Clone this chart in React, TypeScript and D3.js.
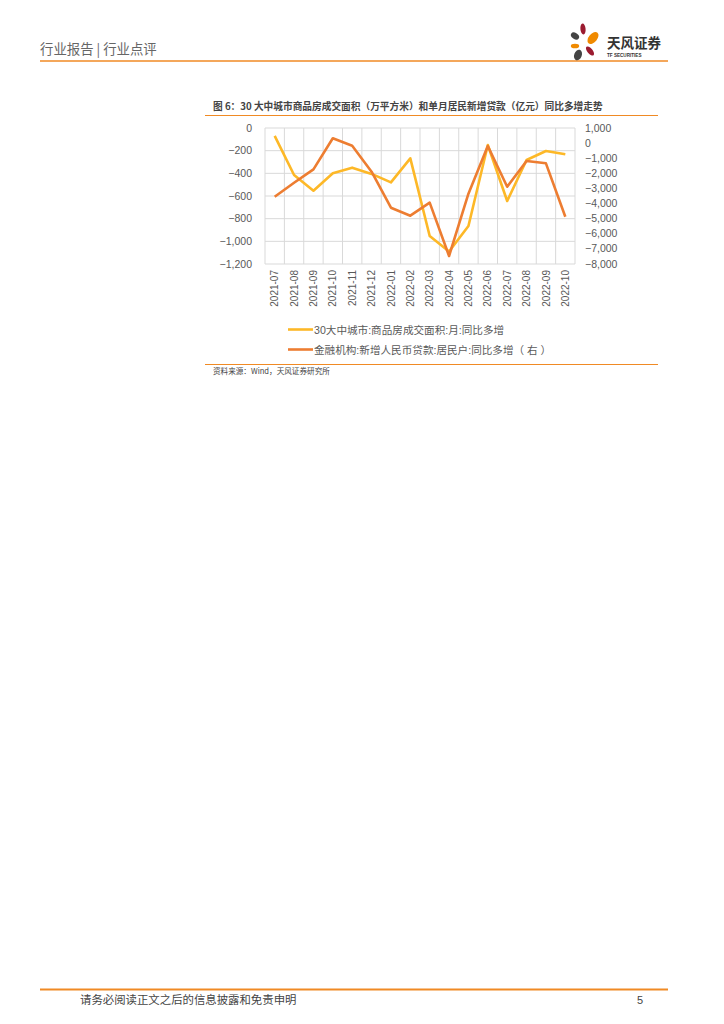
import React from "react";
import * as d3 from "d3";

const categories = ["2021-07","2021-08","2021-09","2021-10","2021-11","2021-12","2022-01","2022-02","2022-03","2022-04","2022-05","2022-06","2022-07","2022-08","2022-09","2022-10"];
const areaYoY = [-70,-415,-553,-400,-350,-405,-480,-268,-953,-1090,-865,-150,-644,-282,-203,-232];
const loanYoY = [-3546,-2620,-1735,318,-171,-1890,-4273,-4802,-3941,-7471,-3350,-191,-2885,-1184,-1338,-4870];
const leftTicks = [0,-200,-400,-600,-800,-1000,-1200];
const rightTicks = [1000,0,-1000,-2000,-3000,-4000,-5000,-6000,-7000,-8000];
const seriesNames = ["30大中城市:商品房成交面积:月:同比多增","金融机构:新增人民币贷款:居民户:同比多增（ 右 ）"];
const title = "图 6：30 大中城市商品房成交面积（万平方米）和单月居民新增贷款（亿元）同比多增走势";
const source = "资料来源：Wind，天风证券研究所";

const FONT = "'Noto Sans CJK SC', 'Noto Sans', sans-serif";
const NUMFONT = "'Liberation Sans', 'Noto Sans CJK SC', sans-serif";
const YELLOW = "#FDB827";
const ORANGE = "#ED7D31";
const ACCENT = "#F08A24";

export default function App() {
  const L = 265, R = 575, T = 128, B = 264;
  const x = d3.scaleBand<string>().domain(categories).range([L, R]);
  const yL = d3.scaleLinear().domain([-1200, 0]).range([B, T]);
  const yR = d3.scaleLinear().domain([-8000, 1000]).range([B, T]);
  const fmt = d3.format(",");
  const cx = (c: string) => (x(c) as number) + x.bandwidth() / 2;
  const lineL = d3.line<number>().x((_, i) => cx(categories[i])).y((v) => yL(v));
  const lineR = d3.line<number>().x((_, i) => cx(categories[i])).y((v) => yR(v));
  const bounds = categories.map((c) => x(c) as number).concat([R]);

  return (
    <svg width={724} height={1024} style={{ position: "absolute", left: 0, top: 0, background: "#fff" }} fontFamily={FONT}>
      {/* header */}
      <text x={40} y={54} fontSize={13.4} fill="#666">行业报告 | 行业点评</text>
      <line x1={40} x2={668} y1={61} y2={61} stroke={ACCENT} strokeWidth={1.6} />
      {/* logo */}
      <g>
        <ellipse cx={583} cy={29} rx={2.6} ry={5.5} fill="#9B1B30" transform="rotate(-5 583 29)" />
        <ellipse cx={575} cy={36} rx={4.5} ry={3} fill="#444" transform="rotate(35 575 36)" />
        <ellipse cx={593} cy={38} rx={4.2} ry={7} fill="#F08A00" transform="rotate(40 593 38)" />
        <ellipse cx={575} cy={46} rx={4.2} ry={2.3} fill="#F08A00" />
        <ellipse cx={578} cy={55} rx={3.8} ry={5.5} fill="#444" transform="rotate(20 578 55)" />
        <ellipse cx={590} cy={51} rx={2.6} ry={5.5} fill="#9B1B30" transform="rotate(-40 590 51)" />
        <text x={607} y={48} fontSize={13.5} fontWeight="bold" fill="#333">天风证券</text>
        <text x={607} y={57} fontSize={4.6} fill="#333" fontFamily={NUMFONT} fontWeight="bold">TF SECURITIES</text>
      </g>

      {/* title */}
      <text x={213} y={110} fontSize={9.7} fontWeight="bold" fill="#444">{title}</text>
      <line x1={205} x2={658} y1={115.5} y2={115.5} stroke={ACCENT} strokeWidth={1} />

      {/* grid */}
      {leftTicks.map((t) => (
        <line key={"h" + t} x1={L} x2={R} y1={yL(t)} y2={yL(t)} stroke="#d9d9d9" strokeWidth={1} />
      ))}
      {bounds.map((b, i) => (
        <line key={"v" + i} x1={b} x2={b} y1={T} y2={B} stroke="#d9d9d9" strokeWidth={1} />
      ))}

      {/* left ticks */}
      {leftTicks.map((t) => (
        <text key={"l" + t} x={252} y={yL(t) + 3.6} fontSize={10.5} fill="#595959" textAnchor="end" fontFamily={NUMFONT}>{fmt(t)}</text>
      ))}
      {rightTicks.map((t) => (
        <text key={"r" + t} x={585} y={yR(t) + 3.6} fontSize={10.5} fill="#595959" textAnchor="start" fontFamily={NUMFONT}>{fmt(t)}</text>
      ))}
      {/* x labels */}
      {categories.map((c) => (
        <text key={c} transform={`translate(${cx(c) + 3.6},${B + 6}) rotate(-90)`} fontSize={10} fill="#595959" textAnchor="end" fontFamily={NUMFONT}>{c}</text>
      ))}

      {/* lines */}
      <path d={lineL(areaYoY) || ""} fill="none" stroke={YELLOW} strokeWidth={2.6} strokeLinejoin="round" />
      <path d={lineR(loanYoY) || ""} fill="none" stroke={ORANGE} strokeWidth={2.6} strokeLinejoin="round" />

      {/* legend */}
      <line x1={288} x2={313} y1={329.5} y2={329.5} stroke={YELLOW} strokeWidth={2.6} />
      <text x={314} y={333.5} fontSize={10.6} fill="#595959" fontFamily={NUMFONT}>{seriesNames[0]}</text>
      <line x1={288} x2={313} y1={349.5} y2={349.5} stroke={ORANGE} strokeWidth={2.6} />
      <text x={314} y={353.5} fontSize={10.6} fill="#595959" fontFamily={NUMFONT}>{seriesNames[1]}</text>

      {/* source */}
      <line x1={205} x2={658} y1={364.5} y2={364.5} stroke={ACCENT} strokeWidth={1} />
      <text x={213} y={374} fontSize={7.6} fill="#444">{source}</text>

      {/* footer */}
      <line x1={40} x2={668} y1={989.5} y2={989.5} stroke={ACCENT} strokeWidth={1.8} />
      <text x={80} y={1004} fontSize={11.4} fill="#444">请务必阅读正文之后的信息披露和免责申明</text>
      <text x={637} y={1004} fontSize={11} fill="#444" fontFamily={NUMFONT}>5</text>
    </svg>
  );
}
